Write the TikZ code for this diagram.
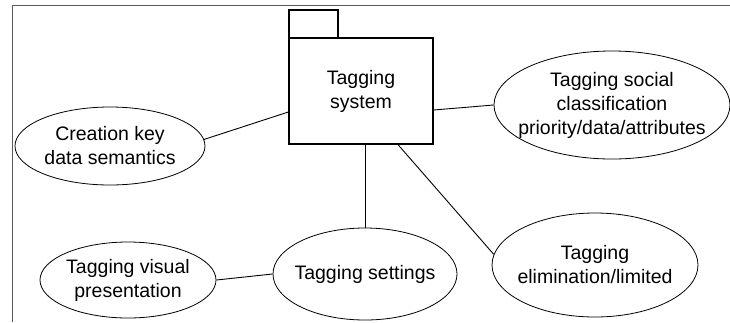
\documentclass[tikz,border=0pt]{standalone}
\usepackage{fontspec}
\setmainfont{Liberation Sans}
\usetikzlibrary{shapes.geometric}
\begin{document}
\begin{tikzpicture}[x=1pt,y=-1pt,
  labelfont/.style={font=\fontsize{19.5}{24}\selectfont,align=center},
  % negative inner sep keeps each ellipse at exactly its minimum size
  usecase/.style={draw=black,line width=0.8pt,ellipse,inner sep=-25pt,labelfont},
  pkgbox/.style={draw=black,line width=1.3pt,rectangle,inner sep=0pt},
  link/.style={draw=black,line width=0.9pt},
  frameline/.style={draw=black!65,line width=1pt}]
\useasboundingbox (0,0) rectangle (730,322);
% outer frame (top and left edges)
\draw[frameline] (730,5) -- (12,5) -- (12,322);
% package symbol
\node[pkgbox,minimum width=49pt,minimum height=28pt] (tab) at (313.5,24) {};
\node[pkgbox,minimum width=144pt,minimum height=106pt,labelfont] (pkg) at (361,91)
  {Tagging\\system};
% use cases
\node[usecase,minimum width=190pt,minimum height=78pt] (sem) at (110,146)
  {Creation key\\data semantics};
\node[usecase,minimum width=236pt,minimum height=108pt] (soc) at (612,105)
  {Tagging social\\classification\\priority/data/attributes};
\node[usecase,minimum width=176pt,minimum height=76pt] (vis) at (128,280)
  {Tagging visual\\presentation};
\node[usecase,minimum width=184pt,minimum height=92pt] (set) at (365,274)
  {Tagging settings};
\node[usecase,minimum width=206pt,minimum height=104pt] (eli) at (595,265)
  {Tagging\\elimination/limited};
% associations
\draw[link] (sem.4) -- ([yshift=-21pt]pkg.west);
\draw[link] ([yshift=-19pt]pkg.east) -- (soc.west);
\draw[link] (set.north |- pkg.south) -- (set.north);
\draw[link] ([xshift=37pt]pkg.south) -- (eli.174);
\draw[link] (vis.east) -- (set.west);
\end{tikzpicture}
\end{document}
